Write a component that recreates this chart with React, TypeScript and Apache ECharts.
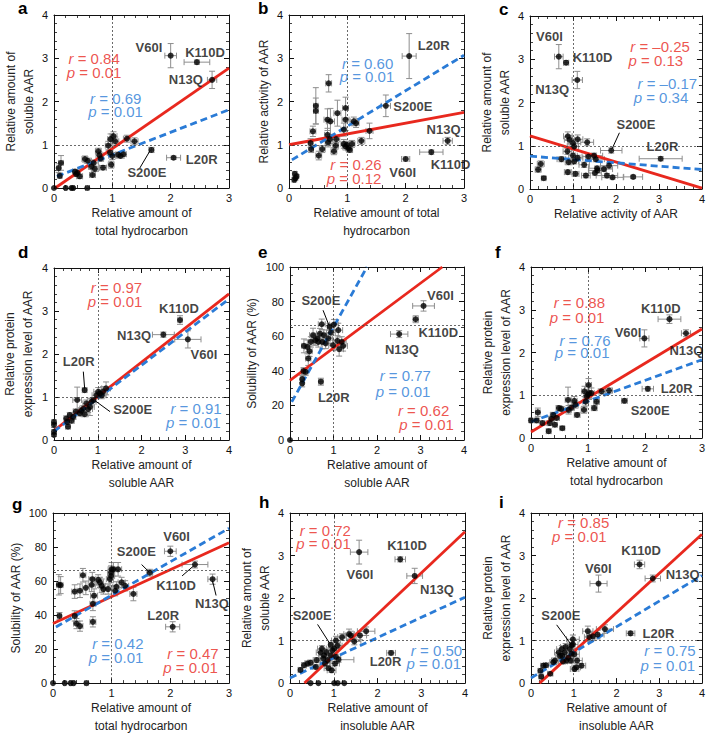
import React, { useEffect, useRef } from 'react';
import * as echarts from 'echarts';

type Pt = [number, number, number, number]; // x, y, xErr, yErr
type Seg = [number, number][];
type Ann = [string, string, number, number]; // kind, text, x, y

// ---------- Panel a: total hydrocarbon vs soluble AAR ----------
const aPoints: Pt[] = [
  [0, 0, 0, 0], [0.2, 0, 0.02, 0], [0.3, 0, 0.02, 0], [0.33, 0, 0.02, 0], [0.57, 0, 0.03, 0],
  [0.08, 0.46, 0.03, 0.1], [0.12, 0.58, 0.04, 0.17], [0.1, 0.28, 0.03, 0.05],
  [0.36, 0.38, 0.04, 0.05], [0.4, 0.35, 0.05, 0.06], [0.44, 0.27, 0.05, 0.05], [0.38, 0.32, 0.05, 0.05],
  [0.53, 0.67, 0.05, 0.07], [0.58, 0.63, 0.06, 0.06], [0.64, 0.5, 0.05, 0.07], [0.68, 0.58, 0.08, 0.07],
  [0.7, 0.44, 0.06, 0.06], [0.66, 0.3, 0.05, 0.05], [0.76, 0.85, 0.05, 0.07], [0.78, 0.76, 0.06, 0.07],
  [0.8, 0.68, 0.05, 0.06], [0.84, 0.47, 0.06, 0.05], [0.93, 0.98, 0.05, 0.1], [0.97, 1.13, 0.05, 0.12],
  [1.02, 1.2, 0.06, 0.1], [1.05, 1.08, 0.06, 0.1], [0.98, 0.54, 0.05, 0.08], [1.0, 0.74, 0.06, 0.08],
  [0.96, 0.82, 0.05, 0.06], [1.1, 0.77, 0.05, 0.06], [1.14, 0.74, 0.06, 0.05], [1.19, 0.78, 0.05, 0.05],
  [1.25, 1.14, 0.06, 0.08], [1.38, 1.08, 0.06, 0.08],
  [1.67, 0.88, 0.04, 0.06], [2.05, 0.7, 0.12, 0.04], [2.0, 3.06, 0.1, 0.28], [2.45, 2.91, 0.22, 0.05], [2.71, 2.5, 0.08, 0.2],
];
const aRed: Seg = [[0.02, 0], [3, 2.77]];
const aBlue: Seg = [[0.05, 0.27], [3, 1.81]];
const aAnn: Ann[] = [
  ['r', 'r| = 0.84', 0.24, 3.0], ['r', 'p| = 0.01', 0.21, 2.67],
  ['b', 'r| = 0.69', 0.61, 2.08], ['b', 'p| = 0.01', 0.58, 1.77],
  ['k', 'V60I', 1.39, 3.25], ['k', 'K110D', 2.24, 3.14], ['k', 'N13Q', 1.96, 2.5],
  ['k', 'L20R', 2.25, 0.65], ['k', 'S200E', 1.25, 0.35],
];
const aLeaders: Seg[] = [[[1.47, 0.46], [1.65, 0.87]]];

// ---------- Panel b: total hydrocarbon vs activity ----------
const bPoints: Pt[] = [
  [0.1, 0.33, 0.03, 0.05], [0.11, 0.23, 0.03, 0.05], [0.09, 0.19, 0.02, 0.05], [0.13, 0.27, 0.03, 0.04],
  [0.37, 1.04, 0.04, 0.1], [0.38, 0.9, 0.04, 0.08], [0.41, 1.31, 0.05, 0.12], [0.46, 1.9, 0.04, 0.42], [0.46, 1.78, 0.04, 0.3],
  [0.51, 0.75, 0.05, 0.1], [0.57, 0.9, 0.05, 0.08],
  [0.68, 2.42, 0.05, 0.2], [0.66, 1.58, 0.06, 0.25], [0.71, 1.54, 0.07, 0.3], [0.66, 1.23, 0.05, 0.15], [0.67, 1.05, 0.05, 0.1], [0.7, 1.13, 0.05, 0.1],
  [0.77, 0.85, 0.05, 0.08], [0.8, 0.98, 0.05, 0.08], [0.81, 1.13, 0.06, 0.08], [0.83, 1.73, 0.06, 0.3],
  [0.94, 1.35, 0.05, 0.15], [0.97, 1.85, 0.05, 0.25], [0.97, 1.58, 0.06, 0.25], [0.94, 1.02, 0.05, 0.1], [0.97, 0.96, 0.05, 0.08], [0.99, 1.0, 0.05, 0.08],
  [1.02, 0.92, 0.05, 0.06], [1.04, 0.88, 0.05, 0.06], [1.08, 1.02, 0.05, 0.08], [1.11, 1.54, 0.06, 0.1], [1.15, 1.5, 0.05, 0.1],
  [1.24, 1.09, 0.06, 0.08], [1.38, 1.32, 0.06, 0.18],
  [1.66, 1.9, 0.08, 0.25], [2.06, 3.05, 0.12, 0.52], [2.72, 1.09, 0.08, 0.08], [2.44, 0.83, 0.2, 0.05], [2.0, 0.67, 0.07, 0.05],
];
const bRed: Seg = [[0, 1.0], [3, 1.75]];
const bBlue: Seg = [[0.05, 0.65], [3, 3.07]];
const bAnn: Ann[] = [
  ['b', 'r| = 0.60', 0.9, 2.88], ['b', 'p| = 0.01', 0.86, 2.58],
  ['r', 'r| = 0.26', 0.7, 0.54], ['r', 'p| = 0.12', 0.64, 0.23],
  ['k', 'L20R', 2.2, 3.3], ['k', 'S200E', 1.78, 1.88], ['k', 'N13Q', 2.35, 1.35],
  ['k', 'K110D', 2.42, 0.54], ['k', 'V60I', 1.71, 0.35],
];
const bLeaders: Seg[] = [];

// ---------- Panel c: activity vs soluble AAR ----------
const cPoints: Pt[] = [
  [0.19, 0.45, 0.07, 0.06], [0.25, 0.58, 0.08, 0.07], [0.32, 0.25, 0.05, 0.04],
  [0.73, 0.69, 0.1, 0.06], [0.87, 0.87, 0.1, 0.07], [0.88, 1.22, 0.1, 0.1], [0.92, 1.14, 0.12, 0.1], [0.9, 0.62, 0.08, 0.06], [0.88, 0.39, 0.08, 0.05],
  [1.0, 0.77, 0.1, 0.06], [1.0, 1.06, 0.12, 0.1], [1.03, 0.98, 0.1, 0.08], [1.03, 0.64, 0.1, 0.06], [1.06, 0.35, 0.08, 0.05], [1.11, 0.72, 0.12, 0.06], [1.11, 1.15, 0.12, 0.1],
  [1.33, 1.08, 0.15, 0.08], [1.36, 0.75, 0.15, 0.06], [1.26, 0.56, 0.12, 0.06], [1.3, 0.31, 0.1, 0.05],
  [1.49, 0.77, 0.2, 0.06], [1.53, 0.69, 0.2, 0.06], [1.56, 0.48, 0.2, 0.05], [1.57, 0.43, 0.2, 0.05], [1.51, 0.37, 0.15, 0.05],
  [1.72, 0.46, 0.2, 0.05], [1.79, 0.31, 0.25, 0.05], [1.84, 0.54, 0.2, 0.06], [1.92, 0.27, 0.25, 0.04], [2.4, 0.28, 0.22, 0.04],
  [1.89, 0.89, 0.25, 0.06], [3.04, 0.7, 0.5, 0.05], [0.67, 3.06, 0.1, 0.28], [0.84, 2.92, 0.06, 0.05], [1.1, 2.52, 0.12, 0.2],
];
const cRed: Seg = [[0, 1.23], [4, 0.02]];
const cBlue: Seg = [[0, 0.76], [4, 0.45]];
const cAnn: Ann[] = [
  ['r', 'r| = –0.25', 2.32, 3.29], ['r', 'p| = 0.13', 2.28, 2.96],
  ['b', 'r| = –0.17', 2.49, 2.45], ['b', 'p| = 0.34', 2.4, 2.12],
  ['k', 'V60I', 0.13, 3.52], ['k', 'K110D', 0.98, 3.04], ['k', 'N13Q', 0.11, 2.31],
  ['k', 'S200E', 2.0, 1.48], ['k', 'L20R', 2.7, 0.98],
];
const cLeaders: Seg[] = [[[2.08, 1.3], [1.91, 0.93]]];

// ---------- Panel d: soluble AAR vs protein expression ----------
const dPoints: Pt[] = [
  [0, 0.35, 0.01, 0.06], [0, 0.19, 0.01, 0.05], [0, 0.42, 0.01, 0.05], [0, 0.12, 0.01, 0.04],
  [0.28, 0.5, 0.05, 0.06], [0.32, 0.31, 0.05, 0.05], [0.36, 0.58, 0.05, 0.06], [0.44, 0.54, 0.06, 0.06], [0.5, 0.66, 0.06, 0.06], [0.53, 0.93, 0.1, 0.3],
  [0.59, 0.62, 0.08, 0.06], [0.67, 0.73, 0.08, 0.07], [0.74, 0.85, 0.08, 0.08], [0.78, 0.72, 0.1, 0.08], [0.82, 0.77, 0.1, 0.2], [0.86, 0.89, 0.1, 0.08],
  [0.97, 1.04, 0.1, 0.08], [1.01, 1.12, 0.1, 0.1], [1.05, 1.08, 0.1, 0.1], [1.12, 1.12, 0.1, 0.12], [1.19, 1.2, 0.1, 0.15], [1.09, 1.04, 0.1, 0.08],
  [0.4, 0.45, 0.06, 0.06], [0.62, 0.68, 0.07, 0.07], [0.7, 0.6, 0.08, 0.06], [0.3, 0.42, 0.05, 0.05],
  [0.9, 0.93, 0.05, 0.05], [0.7, 1.16, 0.05, 0.05], [2.88, 2.79, 0.05, 0.1], [2.5, 2.45, 0.25, 0.06], [3.06, 2.34, 0.3, 0.2],
];
const dRed: Seg = [[0, 0.22], [4, 3.4]];
const dBlue: Seg = [[0, 0.2], [4, 3.28]];
const dAnn: Ann[] = [
  ['r', 'r| = 0.97', 0.83, 3.54], ['r', 'p| = 0.01', 0.76, 3.23],
  ['b', 'r| = 0.91', 2.65, 0.73], ['b', 'p| = 0.01', 2.55, 0.41],
  ['k', 'K110D', 2.39, 3.06], ['k', 'N13Q', 1.43, 2.42], ['k', 'V60I', 3.11, 1.99],
  ['k', 'L20R', 0.19, 1.83], ['k', 'S200E', 1.34, 0.7],
];
const dLeaders: Seg[] = [[[0.67, 1.59], [0.7, 1.2]], [[1.28, 0.66], [0.93, 0.92]]];

// ---------- Panel e: soluble AAR vs solubility (%) ----------
const ePoints: Pt[] = [
  [0, 0, 0, 0],
  [0.28, 35.2, 0.03, 2], [0.28, 32.7, 0.03, 2], [0.31, 39.8, 0.05, 2], [0.36, 39.4, 0.05, 2],
  [0.32, 54.4, 0.05, 4], [0.4, 53.8, 0.06, 4], [0.45, 51.3, 0.06, 3], [0.42, 47.1, 0.06, 4], [0.48, 56.7, 0.06, 3], [0.53, 60.6, 0.08, 4],
  [0.58, 57.7, 0.08, 3], [0.63, 58.7, 0.08, 3], [0.65, 56.7, 0.08, 3], [0.69, 61.5, 0.08, 3], [0.73, 66.9, 0.08, 3], [0.74, 56.7, 0.1, 4],
  [0.78, 60.6, 0.1, 3], [0.82, 55.8, 0.1, 3], [0.88, 58.7, 0.1, 3], [0.94, 62.1, 0.1, 3], [0.99, 54.8, 0.1, 3], [1.01, 66.7, 0.1, 3],
  [1.09, 57.3, 0.1, 3], [1.11, 63.5, 0.1, 4], [1.13, 52.5, 0.1, 4], [1.19, 56.7, 0.1, 3], [1.22, 54.4, 0.1, 3],
  [0.91, 65.4, 0.05, 2], [0.71, 33.7, 0.05, 2], [3.07, 77.5, 0.25, 3], [2.89, 69.8, 0.06, 2], [2.51, 61.2, 0.2, 2],
];
const eRed: Seg = [[0, 34.5], [3.5, 100]];
const eBlue: Seg = [[0.04, 22], [1.77, 100]];
const eAnn: Ann[] = [
  ['b', 'r| = 0.77', 2.05, 37.1], ['b', 'p| = 0.01', 1.96, 28.3],
  ['r', 'r| = 0.62', 2.47, 16.9], ['r', 'p| = 0.01', 2.5, 8.7],
  ['k', 'V60I', 3.14, 83.7], ['k', 'K110D', 2.94, 62.1], ['k', 'N13Q', 2.17, 52.3],
  ['k', 'L20R', 0.63, 24.6], ['k', 'S200E', 0.25, 80.8],
];
const eLeaders: Seg[] = [[[0.76, 75], [0.9, 66]]];

// ---------- Panel f: total hydrocarbon vs protein expression ----------
const fPoints: Pt[] = [
  [0, 0.41, 0.02, 0.05], [0.1, 0.41, 0.03, 0.05], [0.12, 0.6, 0.04, 0.1], [0.2, 0.35, 0.04, 0.05], [0.31, 0.16, 0.04, 0.05],
  [0.33, 0.35, 0.05, 0.06], [0.36, 0.45, 0.05, 0.06], [0.39, 0.54, 0.05, 0.06], [0.45, 0.47, 0.05, 0.05], [0.49, 0.7, 0.05, 0.06],
  [0.53, 0.68, 0.05, 0.05], [0.55, 0.23, 0.04, 0.04], [0.42, 0.31, 0.04, 0.05],
  [0.65, 0.89, 0.05, 0.3], [0.66, 0.66, 0.05, 0.1], [0.71, 0.71, 0.05, 0.06], [0.76, 0.87, 0.05, 0.1], [0.78, 0.78, 0.05, 0.08], [0.81, 0.54, 0.05, 0.05],
  [0.93, 0.66, 0.05, 0.08], [0.94, 1.09, 0.05, 0.12], [0.96, 0.85, 0.05, 0.1], [0.98, 0.97, 0.05, 0.12], [1.0, 1.01, 0.05, 0.1], [1.02, 1.05, 0.05, 0.15],
  [1.01, 1.24, 0.05, 0.15], [1.06, 1.05, 0.05, 0.12], [1.11, 0.7, 0.05, 0.06], [1.15, 0.85, 0.05, 0.06], [1.24, 1.09, 0.06, 0.06], [1.37, 1.11, 0.06, 0.06],
  [1.64, 0.87, 0.05, 0.05], [2.05, 1.15, 0.1, 0.05], [1.99, 2.33, 0.08, 0.2], [2.43, 2.78, 0.2, 0.1], [2.72, 2.45, 0.08, 0.08],
];
const fRed: Seg = [[0, 0.14], [3, 2.55]];
const fBlue: Seg = [[0, 0.38], [3, 1.83]];
const fAnn: Ann[] = [
  ['r', 'r| = 0.88', 0.39, 3.17], ['r', 'p| = 0.01', 0.32, 2.83],
  ['b', 'r| = 0.76', 0.49, 2.29], ['b', 'p| = 0.01', 0.41, 2.0],
  ['k', 'K110D', 1.92, 3.04], ['k', 'V60I', 1.46, 2.47], ['k', 'N13Q', 2.42, 2.04],
  ['k', 'L20R', 2.27, 1.15], ['k', 'S200E', 1.74, 0.64],
];
const fLeaders: Seg[] = [];

// ---------- Panel g: total hydrocarbon vs solubility (%) ----------
const gPoints: Pt[] = [
  [0, 0, 0, 0], [0.2, 0, 0.02, 0], [0.3, 0, 0.02, 0], [0.35, 0, 0.02, 0], [0.57, 0, 0.03, 0],
  [0.1, 57.8, 0.04, 6], [0.13, 57.6, 0.04, 5], [0.11, 39.5, 0.03, 2], [0.37, 39.5, 0.04, 3], [0.4, 35, 0.05, 3], [0.46, 33.5, 0.05, 3],
  [0.37, 53.8, 0.05, 4], [0.46, 54.3, 0.05, 4], [0.51, 63.4, 0.05, 4], [0.56, 56, 0.06, 4], [0.66, 57.8, 0.06, 4], [0.67, 61.1, 0.06, 4],
  [0.68, 46.6, 0.05, 4], [0.7, 51.4, 0.06, 4], [0.68, 36, 0.05, 3],
  [0.77, 60.7, 0.06, 3], [0.8, 59.2, 0.06, 3], [0.83, 57.2, 0.06, 4], [0.86, 55.3, 0.06, 3], [0.94, 55.3, 0.06, 3], [0.97, 61.1, 0.06, 4],
  [0.99, 63, 0.06, 4], [0.99, 64.9, 0.06, 4], [1.0, 66.9, 0.06, 4], [1.03, 66.9, 0.06, 4], [1.06, 54.3, 0.06, 3], [1.08, 56.6, 0.06, 3],
  [1.11, 66.9, 0.06, 4], [1.17, 59.2, 0.06, 3], [1.23, 57.2, 0.06, 3], [1.37, 52.4, 0.06, 4],
  [1.65, 64.9, 0.05, 2], [2.04, 33.1, 0.12, 3], [2.0, 77.5, 0.1, 3], [2.42, 69.7, 0.22, 2], [2.72, 61.1, 0.08, 3],
];
const gRed: Seg = [[0, 35], [3, 82.5]];
const gBlue: Seg = [[0.05, 33], [3, 91]];
const gAnn: Ann[] = [
  ['b', 'r| = 0.42', 0.66, 23.3], ['b', 'p| = 0.01', 0.6, 15.2],
  ['r', 'r| = 0.47', 1.94, 17.3], ['r', 'p| = 0.01', 1.87, 9.1],
  ['k', 'V60I', 1.87, 86.1], ['k', 'S200E', 1.08, 77.1], ['k', 'K110D', 1.75, 57.2],
  ['k', 'N13Q', 2.41, 46.6], ['k', 'L20R', 1.6, 39.5],
];
const gLeaders: Seg[] = [[[1.51, 69.7], [1.64, 65.3]], [[2.2, 63], [2.4, 69]], [[2.78, 51.5], [2.72, 60]]];

// ---------- Panel h: insoluble AAR vs soluble AAR ----------
const hPoints: Pt[] = [
  [0.47, 0, 0, 0], [0.65, 0, 0, 0], [1.01, 0, 0, 0], [1.09, 0, 0, 0], [1.24, 0, 0, 0],
  [0.24, 0.31, 0.05, 0.05], [0.32, 0.42, 0.05, 0.06], [0.4, 0.46, 0.06, 0.06], [0.47, 0.48, 0.06, 0.06], [0.59, 0.38, 0.08, 0.05], [0.61, 0.54, 0.08, 0.06],
  [0.7, 0.72, 0.1, 0.07], [0.73, 0.81, 0.1, 0.07], [0.76, 0.58, 0.1, 0.06], [0.78, 0.65, 0.12, 0.06], [0.8, 0.46, 0.1, 0.05], [0.83, 0.73, 0.12, 0.07],
  [0.86, 0.54, 0.1, 0.06], [0.88, 0.35, 0.1, 0.05], [0.93, 0.65, 0.12, 0.06], [0.97, 0.77, 0.1, 0.07], [1.01, 0.81, 0.1, 0.08], [1.03, 0.46, 0.1, 0.05],
  [1.05, 0.62, 0.1, 0.06], [1.09, 0.88, 0.1, 0.08], [1.11, 0.55, 0.35, 0.06], [1.05, 1.0, 0.1, 0.1], [0.95, 0.3, 0.1, 0.05],
  [1.35, 1.15, 0.12, 0.12], [1.39, 1.12, 0.12, 0.1], [1.47, 0.98, 0.15, 0.08], [1.6, 1.12, 0.15, 0.1], [1.74, 1.22, 0.2, 0.1], [1.19, 1.08, 0.1, 0.08],
  [0.93, 0.9, 0.05, 0.06], [2.31, 0.71, 0.1, 0.05], [1.58, 3.08, 0.2, 0.28], [2.52, 2.91, 0.12, 0.06], [2.85, 2.52, 0.18, 0.18],
];
const hRed: Seg = [[0.33, 0], [4, 3.56]];
const hBlue: Seg = [[0, 0.12], [4, 2.02]];
const hAnn: Ann[] = [
  ['r', 'r| = 0.72', 0.21, 3.59], ['r', 'p| = 0.01', 0.13, 3.28],
  ['b', 'r| = 0.50', 2.75, 0.77], ['b', 'p| = 0.01', 2.65, 0.46],
  ['k', 'K110D', 2.21, 3.23], ['k', 'V60I', 1.28, 2.56], ['k', 'N13Q', 2.96, 2.21],
  ['k', 'S200E', 0.05, 1.58], ['k', 'L20R', 1.81, 0.5],
];
const hLeaders: Seg[] = [[[0.63, 1.38], [0.91, 0.93]]];

// ---------- Panel i: insoluble AAR vs protein expression ----------
const iPoints: Pt[] = [
  [0.22, 0.29, 0.05, 0.05], [0.24, 0.15, 0.05, 0.04], [0.29, 0.41, 0.06, 0.05], [0.35, 0.42, 0.06, 0.05], [0.45, 0.22, 0.06, 0.04],
  [0.52, 0.49, 0.08, 0.06], [0.56, 0.53, 0.08, 0.06], [0.65, 0.72, 0.1, 0.08], [0.68, 0.64, 0.1, 0.06], [0.72, 0.8, 0.12, 0.08],
  [0.73, 0.64, 0.1, 0.06], [0.75, 0.51, 0.1, 0.06], [0.79, 0.72, 0.12, 0.08], [0.81, 0.85, 0.12, 0.08], [0.83, 0.53, 0.12, 0.06],
  [0.87, 0.6, 0.12, 0.06], [0.91, 0.8, 0.12, 0.08], [0.93, 0.53, 0.1, 0.06], [0.95, 0.69, 0.12, 0.08], [0.98, 1.03, 0.15, 0.1],
  [1.01, 0.68, 0.12, 0.06], [1.02, 0.33, 0.1, 0.05], [1.06, 0.37, 0.1, 0.05], [1.08, 0.53, 0.12, 0.06], [0.98, 0.91, 0.12, 0.1], [1.18, 0.41, 0.1, 0.05],
  [1.33, 1.22, 0.12, 0.12], [1.37, 1.08, 0.12, 0.1], [1.45, 1.1, 0.15, 0.1], [1.56, 1.14, 0.15, 0.1], [1.73, 1.27, 0.2, 0.1],
  [0.95, 0.89, 0.05, 0.06], [2.33, 1.17, 0.1, 0.05], [1.58, 2.34, 0.2, 0.2], [2.54, 2.79, 0.12, 0.1], [2.85, 2.46, 0.18, 0.08],
];
const iRed: Seg = [[0.2, 0], [4, 3.5]];
const iBlue: Seg = [[0, 0.12], [4, 2.53]];
const iAnn: Ann[] = [
  ['r', 'r| = 0.85', 0.62, 3.77], ['r', 'p| = 0.01', 0.48, 3.44],
  ['b', 'r| = 0.75', 2.64, 0.76], ['b', 'p| = 0.01', 2.55, 0.41],
  ['k', 'K110D', 2.1, 3.11], ['k', 'V60I', 1.25, 2.69], ['k', 'N13Q', 3.14, 2.55],
  ['k', 'S200E', 0.23, 1.58], ['k', 'L20R', 2.6, 1.17],
];
const iLeaders: Seg[] = [[[0.6, 1.37], [0.93, 0.92]]];

// ---------- Axis names and panel descriptors ----------
const panelKeys = ['a', 'b', 'c', 'd', 'e', 'f', 'g', 'h', 'i'];
const xNames = [
  'Relative amount of\ntotal hydrocarbon', 'Relative amount of total\nhydrocarbon', 'Relative activity of AAR',
  'Relative amount of\nsoluble AAR', 'Relative amount of\nsoluble AAR', 'Relative amount of\ntotal hydrocarbon',
  'Relative amount of\ntotal hydrocarbon', 'Relative amount of\ninsoluble AAR', 'Relative amount of\ninsoluble AAR',
];
const yNames = [
  'Relative amount of\nsoluble AAR', 'Relative activity of AAR', 'Relative amount of\nsoluble AAR',
  'Relative protein\nexpression level of AAR', 'Solubility of AAR (%)', 'Relative protein\nexpression level of AAR',
  'Solubility of AAR (%)', 'Relative amount of\nsoluble AAR', 'Relative protein\nexpression level of AAR',
];
const xMaxes = [3, 3, 4, 4, 4, 3, 3, 4, 4];
const yMaxes = [4, 4, 4, 4, 100, 4, 100, 4, 4];
const yRefs = [1, 1, 1, 1, 66.5, 1, 66.5, 1, 1];

const panels = [
  { pts: aPoints, red: aRed, blue: aBlue, ann: aAnn, leaders: aLeaders },
  { pts: bPoints, red: bRed, blue: bBlue, ann: bAnn, leaders: bLeaders },
  { pts: cPoints, red: cRed, blue: cBlue, ann: cAnn, leaders: cLeaders },
  { pts: dPoints, red: dRed, blue: dBlue, ann: dAnn, leaders: dLeaders },
  { pts: ePoints, red: eRed, blue: eBlue, ann: eAnn, leaders: eLeaders },
  { pts: fPoints, red: fRed, blue: fBlue, ann: fAnn, leaders: fLeaders },
  { pts: gPoints, red: gRed, blue: gBlue, ann: gAnn, leaders: gLeaders },
  { pts: hPoints, red: hRed, blue: hBlue, ann: hAnn, leaders: hLeaders },
  { pts: iPoints, red: iRed, blue: iBlue, ann: iAnn, leaders: iLeaders },
];

// ---------- Layout (pixels) ----------
const layout = [
  { left: 54, top: 15, w: 175, h: 173, xGap: 13, yGap: 13, tx: 18, ty: 0 },
  { left: 289, top: 15, w: 175, h: 173, xGap: 16, yGap: 15, tx: 258, ty: 0 },
  { left: 530, top: 16, w: 174, h: 173, xGap: 16, yGap: 11, tx: 499, ty: 1 },
  { left: 54, top: 268, w: 175, h: 172, xGap: 16, yGap: 17, tx: 18, ty: 244 },
  { left: 290, top: 267, w: 174, h: 173, xGap: 16, yGap: 29, tx: 258, ty: 244 },
  { left: 531, top: 267, w: 173, h: 171, xGap: 16, yGap: 15, tx: 495, ty: 244 },
  { left: 53, top: 513, w: 176, h: 173, xGap: 15, yGap: 27, tx: 12, ty: 496 },
  { left: 290, top: 513, w: 175, h: 173, xGap: 15, yGap: 10, tx: 259, ty: 494 },
  { left: 531, top: 513, w: 173, h: 173, xGap: 15, yGap: 15, tx: 499, ty: 494 },
];

const FONT = '"Liberation Sans", Arial, Helvetica, sans-serif';
const RED = '#e8281e';
const BLUE = '#2a7bd6';
const INK = '#111111';

function errRender(params: any, api: any) {
  const x = api.value(0), y = api.value(1), xe = api.value(2), ye = api.value(3);
  const style = { stroke: '#8e8e8e', lineWidth: 1, fill: 'none' };
  const children: any[] = [];
  const cap = 3;
  if (xe > 0) {
    const l = api.coord([x - xe, y]);
    const r = api.coord([x + xe, y]);
    children.push({ type: 'line', shape: { x1: l[0], y1: l[1], x2: r[0], y2: r[1] }, style });
    children.push({ type: 'line', shape: { x1: l[0], y1: l[1] - cap, x2: l[0], y2: l[1] + cap }, style });
    children.push({ type: 'line', shape: { x1: r[0], y1: r[1] - cap, x2: r[0], y2: r[1] + cap }, style });
  }
  if (ye > 0) {
    const t = api.coord([x, y + ye]);
    const b = api.coord([x, y - ye]);
    children.push({ type: 'line', shape: { x1: t[0], y1: t[1], x2: b[0], y2: b[1] }, style });
    children.push({ type: 'line', shape: { x1: t[0] - cap, y1: t[1], x2: t[0] + cap, y2: t[1] }, style });
    children.push({ type: 'line', shape: { x1: b[0] - cap, y1: b[1], x2: b[0] + cap, y2: b[1] }, style });
  }
  return { type: 'group', children };
}

function axisCommon(gridIndex: number, max: number, isPercent: boolean) {
  return {
    type: 'value', gridIndex, min: 0, max, interval: isPercent ? 20 : 1,
    axisLine: { show: true, onZero: false, lineStyle: { color: INK, width: 1 } },
    axisTick: { show: true, inside: true, length: 5, lineStyle: { color: INK, width: 1 } },
    minorTick: { show: true, splitNumber: isPercent ? 4 : 5, length: 3, lineStyle: { color: INK, width: 0.8 } },
    splitLine: { show: false },
    minorSplitLine: { show: false },
  };
}

function buildOption() {
  const grid: any[] = [];
  const xAxis: any[] = [];
  const yAxis: any[] = [];
  const series: any[] = [];
  const title: any[] = [];
  const xTop: any[] = [];
  const yRight: any[] = [];

  panels.forEach((p, i) => {
    const L = layout[i];
    grid.push({ left: L.left, top: L.top, width: L.w, height: L.h, containLabel: false });
    title.push({
      text: panelKeys[i], left: L.tx, top: L.ty, padding: 0,
      textStyle: { fontSize: 17, fontWeight: 'bold', fontFamily: FONT, color: '#000' },
    });
    const pct = yMaxes[i] === 100;
    xAxis.push({
      ...axisCommon(i, xMaxes[i], false), position: 'bottom',
      axisLabel: { show: true, fontSize: 11, color: INK, fontFamily: FONT, margin: 4 },
      name: xNames[i], nameLocation: 'middle', nameGap: L.xGap,
      nameTextStyle: { fontSize: 12, fontFamily: FONT, color: '#222', lineHeight: 18 },
    });
    yAxis.push({
      ...axisCommon(i, yMaxes[i], pct), position: 'left',
      axisLabel: { show: true, fontSize: 11, color: INK, fontFamily: FONT, margin: 6 },
      name: yNames[i], nameLocation: 'middle', nameRotate: 90, nameGap: L.yGap,
      nameTextStyle: { fontSize: 12, fontFamily: FONT, color: '#222', lineHeight: 18 },
    });
    xTop.push({ ...axisCommon(i, xMaxes[i], false), position: 'top', axisLabel: { show: false } });
    yRight.push({ ...axisCommon(i, yMaxes[i], pct), position: 'right', axisLabel: { show: false } });

    const ax = { xAxisIndex: i, yAxisIndex: i };
    series.push({
      type: 'custom', ...ax, renderItem: errRender, data: p.pts, encode: { x: 0, y: 1 },
      silent: true, clip: false, z: 2,
    });
    series.push({
      type: 'line', ...ax, data: p.red, symbol: 'none', silent: true, z: 3,
      lineStyle: { color: RED, width: 2.8 },
    });
    series.push({
      type: 'line', ...ax, data: p.blue, symbol: 'none', silent: true, z: 4,
      lineStyle: { color: BLUE, width: 2.8, type: [7, 4] },
    });
    p.leaders.forEach((seg) => {
      series.push({
        type: 'line', ...ax, data: seg, symbol: 'none', silent: true, z: 4,
        lineStyle: { color: '#000', width: 1 },
      });
    });
    series.push({
      type: 'scatter', ...ax, data: p.pts.map((d) => [d[0], d[1]]), symbolSize: 6, clip: false,
      itemStyle: { color: '#000' }, z: 5, silent: true,
      markLine: {
        silent: true, symbol: 'none', label: { show: false },
        lineStyle: { type: [2, 2], color: '#444', width: 0.8 },
        data: [{ xAxis: 1 }, { yAxis: yRefs[i] }],
      },
    });
    series.push({
      type: 'scatter', ...ax, symbolSize: 1, clip: false, silent: true, z: 6,
      itemStyle: { color: 'rgba(0,0,0,0)' },
      data: p.ann.map(([kind, text, x, y]) => {
        if (kind === 'k') {
          return {
            value: [x, y],
            label: {
              show: true, position: 'right', distance: 0, formatter: text,
              fontSize: 13, fontWeight: 'bold', fontFamily: FONT, color: INK,
            },
          };
        }
        const color = kind === 'r' ? RED : BLUE;
        const [letter, rest] = text.split('|');
        return {
          value: [x, y],
          label: {
            show: true, position: 'right', distance: 0,
            formatter: `{i|${letter}}{n|${rest}}`,
            rich: {
              i: { fontStyle: 'italic', fontSize: 15, fontFamily: FONT, color },
              n: { fontSize: 15, fontFamily: FONT, color },
            },
          },
        };
      }),
    });
  });

  return {
    animation: false,
    backgroundColor: '#ffffff',
    title,
    grid,
    xAxis: [...xAxis, ...xTop],
    yAxis: [...yAxis, ...yRight],
    series,
  };
}

export default function App() {
  const ref = useRef<HTMLDivElement>(null);
  useEffect(() => {
    if (!ref.current) return;
    const chart = echarts.init(ref.current, undefined, { renderer: 'svg' });
    chart.setOption(buildOption() as any);
    return () => chart.dispose();
  }, []);
  return <div ref={ref} style={{ width: 708, height: 736, position: 'absolute', left: 0, top: 0 }} />;
}
